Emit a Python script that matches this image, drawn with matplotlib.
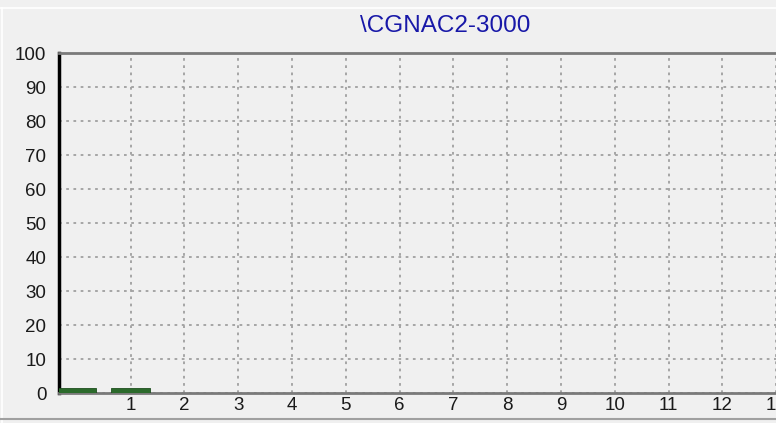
import numpy as np
import matplotlib
matplotlib.use('Agg')
import matplotlib.pyplot as plt
from matplotlib.lines import Line2D

title = '\\CGNAC2-3000'
bar_x = [0, 1]
bar_vals = [1.5, 1.5]
xticks = list(range(1, 15))
yticks = list(range(0, 101, 10))

W, H = 776, 423
fig = plt.figure(figsize=(W / 100, H / 100), dpi=100)
fig.patch.set_facecolor('#f0f0f0')

# plot area; right side runs off the figure like the original control
x0 = -0.33
x1 = 14.0
unit = 53.8
left_px, bot_px, top_px = 59, 393, 53
ax = fig.add_axes([left_px / W, (H - bot_px) / H,
                   (x1 - x0) * unit / W, (bot_px - top_px) / H])
ax.set_facecolor('#f0f0f0')
ax.set_xlim(x0, x1)
ax.set_ylim(0, 100)

ax.bar(bar_x, bar_vals, width=0.72, color='#2b6a2b', edgecolor='#1f4f1f',
       linewidth=0.6, zorder=3)

ax.set_xticks(xticks)
ax.set_yticks(yticks)
ax.tick_params(length=0, labelsize=13.5, colors='#1a1a1a')
ax.tick_params(axis='y', pad=9)
ax.tick_params(axis='x', pad=3)
for lab in ax.get_xticklabels() + ax.get_yticklabels():
    lab.set_family('Liberation Sans')
ax.grid(True, linestyle=(0, (1.5, 2.5)), color='#a0a0a0', linewidth=1.3)

ax.spines['left'].set_color('black')
ax.spines['left'].set_linewidth(2.5)
ax.spines['top'].set_color('#7a7a7a')
ax.spines['top'].set_linewidth(2)
ax.spines['bottom'].set_color('#7a7a7a')
ax.spines['bottom'].set_linewidth(2)
ax.spines['right'].set_visible(False)

fig.text(445 / W, 1 - 26 / H, title, ha='center', va='center',
         fontsize=17.5, color='#1818a8', fontweight='medium',
         family='Liberation Sans')

# panel border
fig.add_artist(Line2D([0, 1], [1 - 8 / H, 1 - 8 / H], color='white', lw=1.2,
                      transform=fig.transFigure))
fig.add_artist(Line2D([2 / W, 2 / W], [0, 1 - 8 / H], color='white', lw=1.2,
                      transform=fig.transFigure))
fig.add_artist(Line2D([0, 1], [4 / H, 4 / H], color='#a0a0a0', lw=1.5,
                      transform=fig.transFigure))

fig.savefig('out.png', dpi=100, facecolor=fig.get_facecolor())
